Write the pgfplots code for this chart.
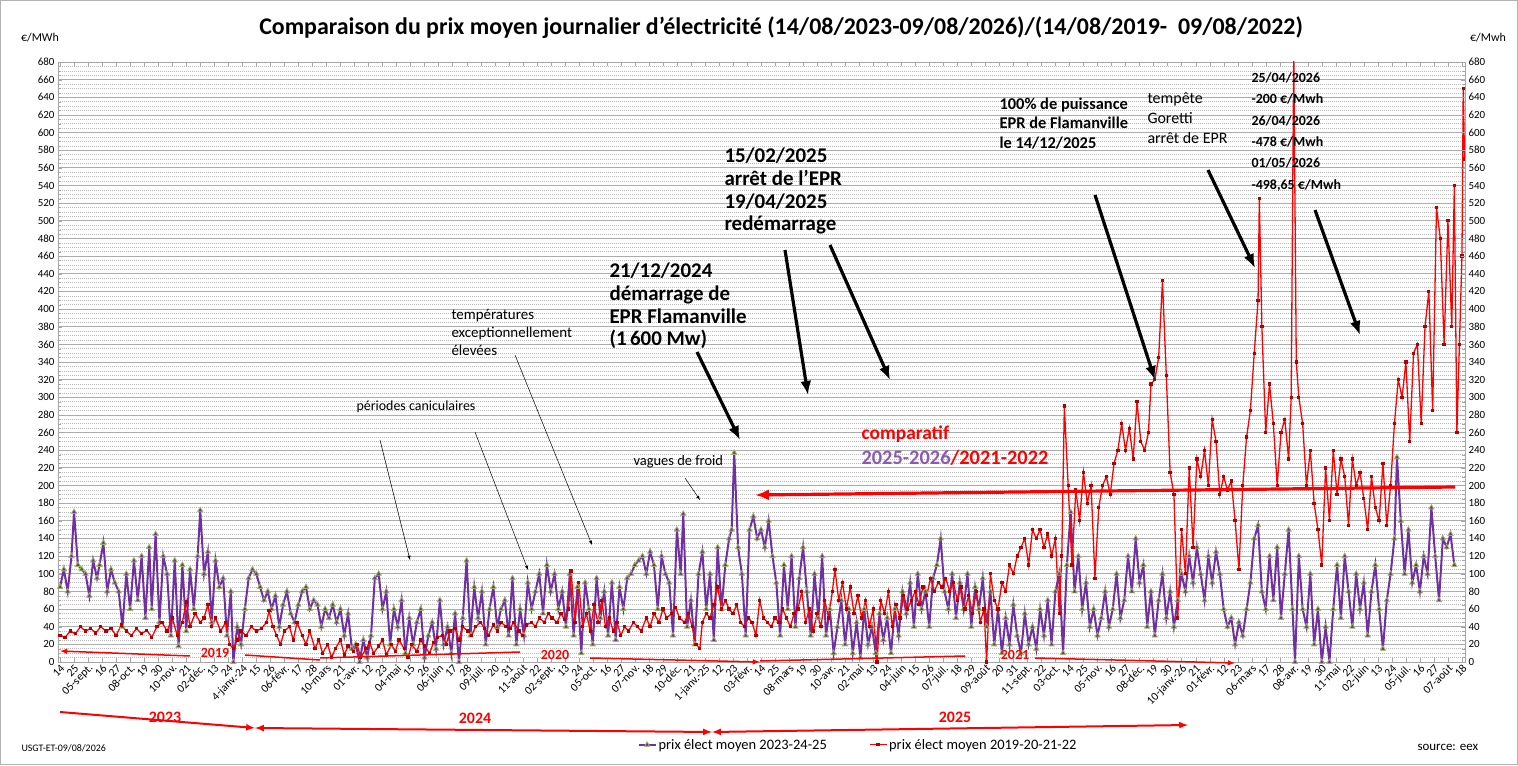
\documentclass[border=0pt]{standalone}
\usepackage{pgfplots}
\pgfplotsset{compat=1.18}
\usetikzlibrary{arrows.meta}
\usepackage{fontspec}
\setmainfont{Carlito}
\definecolor{pviolet}{RGB}{112,48,160}
\definecolor{pgreen}{RGB}{155,187,89}
\definecolor{pred}{RGB}{255,0,0}
\begin{document}
\begin{tikzpicture}[x=1bp,y=1bp]
\path[use as bounding box] (-58,-103) rectangle (1460,662);
\draw[gray!60,line width=1bp] (-57.5,-102.5) rectangle (1459.5,661.5);
\begin{axis}[scale only axis,width=1407bp,height=600bp,
  xmin=-1.6,xmax=1102.4,ymin=0,ymax=680,
  axis line style={gray!70},
  ytick={0,20,...,680},minor y tick num=3,
  ymajorgrids,yminorgrids,
  major grid style={gray!65,line width=0.8bp},
  minor grid style={gray!55,dash pattern=on 1bp off 1bp,line width=0.6bp},
  tick style={gray!70},
  y tick label style={font=\fontsize{11}{13}\selectfont},
  /pgf/number format/assume math mode=true,
  xtick={0,11,...,1100},
  xticklabels={14,25,05-sept.,16,27,08-oct.,19,30,10-nov.,21,02-déc.,13,24,4-janv.-24,15,26,06-févr.,17,28,10-mars,21,01-avr.,12,23,04-mai,15,26,06-juin,17,28,09-juil.,20,31,11-août,22,02-sept.,13,24,05-oct.,16,27,07-nov.,18,29,10-déc.,21,1-janv.-25,12,23,03-févr.,14,25,08-mars,19,30,10-avr.,21,02-mai,13,24,04-juin,15,26,07-juil.,18,29,09-août,20,31,11-sept.,22,03-oct.,14,25,05-nov.,16,27,08-déc.,19,30,10-janv.-26,21,01-févr.,12,23,06-mars,17,28,08-avr.,19,30,11-mai,22,02-juin,13,24,05-juil.,16,27,07-août,18},
  x tick label style={font=\fontsize{11.5}{13}\selectfont,rotate=45,anchor=north east,inner sep=1bp},
  legend style={at={(0.5686,-0.138)},anchor=center,draw=none,fill=none,legend columns=2,font=\fontsize{14.5}{16}\selectfont,/tikz/every even column/.append style={column sep=40bp}},
  clip=true]
\addplot[pviolet,line width=2bp,mark=triangle*,mark size=3bp,mark options={fill=pviolet,draw=pgreen,line width=0.8bp}] coordinates {
(0,85)(3,105)(6,80)(9,120)(11,170)(14,110)(17,105)(20,100)(23,75)(26,115)(29,95)(31,110)(34,135)(37,80)(40,105)(43,90)(46,80)(49,40)(52,100)(55,60)(58,115)(61,70)(64,120)(67,50)(70,130)(72,60)(75,145)(78,45)(81,120)(84,100)(87,30)(90,115)(93,18)(96,110)(99,35)(102,105)(105,60)(108,120)(110,172)(113,100)(116,125)(119,45)(122,115)(125,85)(128,95)(131,30)(134,80)(136,0)(139,40)(142,20)(145,60)(148,95)(151,105)(154,100)(157,85)(160,70)(163,80)(166,60)(169,75)(172,40)(175,65)(178,80)(181,55)(184,45)(187,65)(190,80)(193,85)(196,60)(199,70)(202,65)(205,40)(208,60)(211,50)(214,65)(217,45)(220,60)(223,30)(226,55)(229,15)(232,20)(235,0)(238,25)(241,5)(244,30)(247,95)(250,100)(253,60)(256,80)(259,20)(262,60)(265,40)(268,70)(271,10)(274,50)(277,20)(280,45)(283,60)(286,5)(289,30)(292,45)(295,15)(298,70)(301,20)(304,40)(307,10)(310,55)(313,0)(316,50)(319,115)(322,30)(325,85)(328,50)(331,80)(334,20)(337,60)(340,85)(343,40)(346,60)(349,70)(352,30)(355,95)(358,20)(361,60)(364,30)(367,90)(370,60)(373,80)(376,100)(379,55)(382,110)(385,80)(388,100)(391,60)(394,80)(397,40)(400,100)(403,30)(406,85)(409,10)(412,90)(415,60)(418,20)(421,95)(424,50)(427,80)(430,30)(433,90)(436,25)(439,85)(442,60)(445,95)(448,100)(451,110)(454,115)(457,120)(460,100)(463,125)(466,110)(469,60)(472,120)(475,100)(478,90)(481,30)(484,150)(487,100)(489,168)(492,40)(495,70)(498,20)(501,100)(504,125)(507,60)(510,100)(513,25)(516,130)(519,60)(522,110)(525,140)(527,150)(529,237)(532,130)(535,100)(538,30)(541,150)(544,165)(547,140)(550,150)(553,130)(556,160)(559,120)(562,90)(565,30)(568,110)(571,60)(574,120)(577,40)(580,95)(583,130)(586,80)(589,30)(592,100)(595,50)(598,120)(601,30)(604,60)(607,10)(610,40)(613,70)(616,20)(619,60)(622,10)(625,45)(628,5)(631,60)(634,20)(637,40)(640,10)(643,55)(646,25)(649,50)(652,10)(655,60)(658,30)(661,80)(664,55)(667,90)(670,40)(673,100)(676,60)(679,80)(682,40)(685,95)(688,110)(691,140)(694,80)(697,60)(700,100)(703,50)(706,90)(709,60)(712,100)(715,40)(718,85)(721,60)(724,95)(727,40)(730,80)(733,20)(736,60)(739,10)(742,50)(745,20)(748,65)(751,30)(754,10)(757,55)(760,20)(763,40)(766,15)(769,60)(772,30)(775,70)(778,20)(781,80)(784,100)(787,10)(790,110)(793,170)(796,80)(799,120)(802,60)(805,90)(808,40)(811,60)(814,30)(817,50)(820,80)(823,40)(826,60)(829,100)(832,50)(835,70)(838,120)(841,80)(844,140)(847,90)(850,110)(853,40)(856,80)(859,30)(862,70)(865,100)(868,50)(871,80)(874,40)(877,70)(880,100)(883,80)(886,120)(889,90)(892,130)(895,100)(898,70)(901,120)(904,90)(907,125)(910,100)(913,60)(916,40)(919,50)(922,20)(925,45)(928,30)(931,60)(934,90)(937,140)(940,155)(943,80)(946,60)(949,120)(952,70)(955,130)(958,50)(961,100)(964,150)(967,60)(969,0)(972,120)(975,60)(978,40)(981,100)(984,20)(987,60)(990,0)(993,40)(996,0)(999,60)(1002,110)(1005,50)(1008,120)(1011,80)(1014,40)(1017,100)(1020,60)(1023,90)(1026,30)(1029,80)(1032,110)(1035,60)(1038,15)(1041,70)(1044,100)(1047,140)(1049,232)(1052,160)(1055,100)(1058,150)(1061,90)(1064,110)(1067,80)(1070,120)(1073,100)(1076,175)(1079,120)(1082,70)(1085,140)(1088,130)(1091,145)(1094,110)};
\addlegendentry{prix élect moyen 2023-24-25}
\addplot[pred,line width=1.3bp,mark=square*,mark size=1bp,mark options={fill=pred!70!black,draw=pred!70!black}] coordinates {
(0,30)(4,28)(8,35)(12,32)(16,40)(20,35)(24,38)(28,33)(32,40)(36,35)(40,38)(44,30)(48,42)(52,35)(56,30)(60,38)(64,32)(68,36)(72,28)(76,40)(80,45)(84,35)(88,50)(92,30)(96,45)(99,68)(102,40)(106,55)(110,45)(113,50)(116,65)(119,40)(122,50)(126,35)(130,45)(133,20)(136,15)(139,25)(142,35)(146,30)(150,40)(154,35)(158,38)(162,45)(164,58)(167,40)(170,30)(173,20)(176,35)(180,40)(183,25)(186,45)(190,30)(193,20)(196,35)(200,15)(203,25)(206,10)(210,20)(213,5)(216,15)(220,25)(223,8)(226,18)(230,12)(233,20)(236,5)(240,15)(243,22)(246,10)(250,18)(253,25)(256,8)(260,20)(263,12)(266,25)(270,15)(273,5)(276,20)(280,12)(283,25)(286,18)(290,10)(293,22)(296,28)(300,30)(303,20)(306,35)(310,38)(313,25)(316,40)(320,35)(323,30)(326,40)(330,45)(333,38)(336,30)(340,42)(343,35)(346,45)(350,40)(353,38)(356,45)(360,35)(363,30)(366,42)(370,45)(373,40)(376,50)(380,45)(383,55)(386,50)(390,45)(393,55)(396,48)(399,60)(401,103)(404,45)(407,90)(410,40)(413,55)(416,35)(419,65)(422,45)(425,70)(428,40)(431,50)(434,35)(437,45)(440,30)(443,40)(446,35)(450,45)(453,40)(456,35)(460,50)(463,40)(466,55)(470,45)(473,60)(476,50)(480,55)(483,62)(486,50)(490,45)(493,55)(496,40)(499,20)(502,15)(504,45)(507,55)(510,50)(513,65)(516,85)(519,60)(522,70)(525,60)(528,55)(531,65)(534,45)(537,40)(540,50)(543,45)(546,30)(549,70)(552,50)(555,45)(558,40)(561,50)(564,45)(567,60)(570,50)(573,40)(576,55)(579,60)(582,80)(585,45)(588,60)(591,35)(594,55)(597,40)(600,70)(603,50)(606,80)(608,105)(611,70)(614,90)(617,60)(620,85)(623,55)(626,75)(629,50)(632,70)(635,40)(638,60)(641,0)(644,70)(647,55)(650,80)(653,40)(656,65)(659,50)(662,75)(665,60)(668,70)(671,80)(674,65)(677,85)(680,75)(683,95)(686,80)(689,90)(692,85)(695,95)(698,80)(701,90)(704,70)(707,85)(710,60)(713,75)(716,55)(719,80)(722,45)(725,60)(727,0)(730,100)(733,70)(736,60)(739,90)(742,80)(745,110)(748,100)(751,120)(754,130)(757,140)(760,110)(763,150)(766,140)(769,150)(772,130)(775,145)(778,120)(781,140)(784,55)(786,120)(788,290)(791,200)(794,110)(797,195)(800,160)(803,215)(806,180)(809,200)(812,95)(815,175)(818,200)(821,210)(824,190)(827,225)(830,240)(833,270)(836,240)(839,265)(842,230)(845,295)(848,250)(851,240)(854,260)(856,315)(859,320)(862,345)(865,432)(868,325)(871,215)(874,190)(877,50)(880,150)(883,100)(886,220)(889,130)(892,230)(895,210)(898,240)(901,200)(904,275)(907,250)(910,190)(913,210)(916,195)(919,205)(922,160)(925,105)(928,200)(931,255)(934,285)(937,350)(940,410)(941,525)(943,380)(946,260)(949,315)(952,270)(955,200)(958,260)(961,275)(964,230)(966,300)(968,690)(970,340)(972,300)(975,270)(978,200)(981,240)(984,180)(987,150)(990,110)(993,220)(996,160)(999,240)(1002,190)(1005,230)(1008,210)(1011,155)(1014,230)(1017,200)(1020,215)(1023,185)(1026,150)(1029,210)(1032,175)(1035,160)(1038,225)(1041,155)(1044,200)(1047,270)(1050,320)(1053,300)(1056,340)(1059,250)(1062,350)(1065,360)(1068,270)(1071,380)(1074,420)(1077,285)(1080,515)(1083,480)(1086,360)(1089,500)(1092,380)(1094,540)(1096,260)(1098,360)(1100,460)(1101,650)(1102,570)};
\addlegendentry{prix élect moyen 2019-20-21-22}
\end{axis}
\begin{axis}[scale only axis,width=1407bp,height=600bp,xmin=0,xmax=1,ymin=0,ymax=680,
  axis x line=none,axis y line*=right,ytick={0,20,...,680},
  axis line style={gray!70},tick style={gray!70},
  y tick label style={font=\fontsize{11}{13}\selectfont},
  /pgf/number format/assume math mode=true]
\end{axis}
% titles
\node[font=\fontsize{24}{26}\selectfont\bfseries] at (723,634) {Comparaison du prix moyen journalier d'électricité (14/08/2023-09/08/2026)/(14/08/2019-~~09/08/2022)};
\node[font=\fontsize{12}{14}\selectfont] at (-18,624) {€/MWh};
\node[font=\fontsize{12}{14}\selectfont] at (1430,624) {€/Mwh};
\node[font=\fontsize{10}{12}\selectfont,anchor=west] at (-40,-86) {USGT-ET-09/08/2026};
\node[font=\fontsize{13}{15}\selectfont,anchor=west] at (1356,-85) {source: eex};
% annotations
\node[font=\fontsize{14}{16}\selectfont,anchor=west] at (295,255) {périodes caniculaires};
\node[font=\fontsize{15}{18}\selectfont,anchor=north west,align=left] at (390,356) {températures\\exceptionnellement\\élevées};
\node[font=\fontsize{14.5}{16}\selectfont,anchor=west] at (572,200) {vagues de froid};
\node[font=\fontsize{21}{23}\selectfont\bfseries,anchor=north west,align=left] at (548,403) {21/12/2024\\démarrage de\\EPR Flamanville\\(1\,600 Mw)};
\node[font=\fontsize{21}{23}\selectfont\bfseries,anchor=north west,align=left] at (663,518) {15/02/2025\\arrêt de l'EPR\\19/04/2025\\redémarrage};
\node[font=\fontsize{19.5}{22}\selectfont\bfseries,anchor=west,text=pred] at (800,228) {comparatif};
\node[font=\fontsize{20.5}{22}\selectfont\bfseries,anchor=west] at (800,204) {\textcolor{pviolet!80}{2025-2026}\textcolor{pred}{/2021-2022}};
\node[font=\fontsize{16.5}{20}\selectfont\bfseries,anchor=north west,align=left] at (938,568) {100\% de puissance\\EPR de Flamanville\\le 14/12/2025};
\node[font=\fontsize{16}{20}\selectfont,anchor=north west,align=left] at (1086,573) {tempête\\Goretti\\arrêt de EPR};
\node[font=\fontsize{14}{21.5}\selectfont\bfseries,anchor=north west,align=left] at (1190,593) {25/04/2026\\-200 €/Mwh\\26/04/2026\\-478 €/Mwh\\01/05/2026\\-498,65 €/Mwh};
\begin{scope}[-latex]
\draw[black,line width=0.5bp] (322,222)--(352,102);
\draw[black,line width=0.5bp] (417,230)--(470,92);
\draw[black,line width=0.5bp] (457,307)--(534,117);
\draw[black,line width=0.5bp] (627,184)--(642,162);
\end{scope}
\begin{scope}[-{Latex[length=14bp,width=11bp]},line width=3.2bp]
\draw (639,310)--(682,222);
\draw (727,412)--(750,267);
\draw (772,417)--(832,282);
\draw (1037,467)--(1097,282);
\draw (1150,492)--(1197,394);
\draw (1257,452)--(1302,327);
\draw[pred] (1397,175)--(697,167);
\end{scope}
% year markers
\begin{scope}[pred,line width=1.5bp]
\draw[-latex] (132,6)--(2,11);
\node[font=\fontsize{14}{16}\selectfont\bfseries] at (157,9) {2019};
\draw (187,7)--(262,2);
\draw (262,4)--(462,10);
\node[font=\fontsize{14}{16}\selectfont\bfseries] at (497,7) {2020};
\draw[-latex] (532,4)--(702,0);
\draw (702,1)--(907,6);
\node[font=\fontsize{14}{16}\selectfont\bfseries] at (957,7) {2021};
\draw[-latex] (977,4)--(1177,-1);
\node[font=\fontsize{16}{18}\selectfont\bfseries] at (107,-55) {2023};
\draw[-latex,line width=2bp] (2,-50)--(197,-66);
\node[font=\fontsize{16}{18}\selectfont\bfseries] at (417,-56) {2024};
\draw[latex-latex,line width=2bp] (197,-66)--(654,-70);
\node[font=\fontsize{16}{18}\selectfont\bfseries] at (897,-55) {2025};
\draw[latex-latex,line width=2bp] (654,-70)--(1130,-63);
\end{scope}
\end{tikzpicture}
\end{document}
